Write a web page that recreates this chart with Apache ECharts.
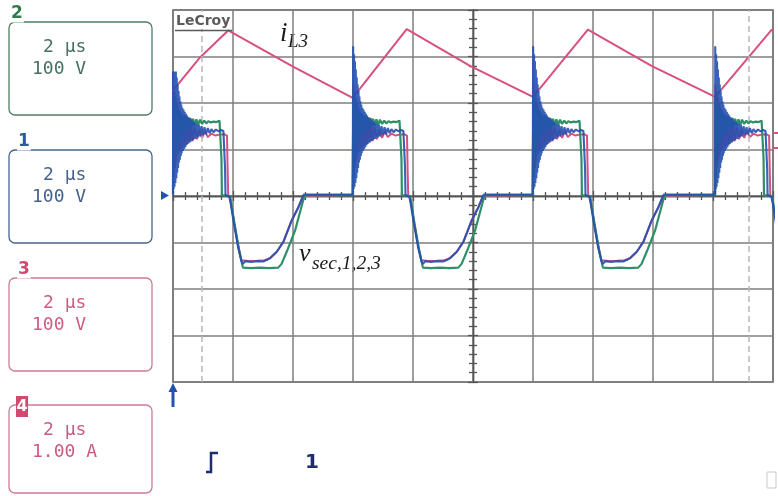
<!DOCTYPE html>
<html>
<head>
<meta charset="utf-8">
<script src="https://cdn.jsdelivr.net/npm/echarts@6/dist/echarts.min.js"></script>
<style>
  html, body { margin: 0; padding: 0; background: #fff; }
  #scope { width: 778px; height: 496px; }
</style>
</head>
<body>
<div id="scope"></div>
<script>
// Time base: 2 us/div over 10 divisions, trigger-relative (-10 .. 10 us).
// Voltage channels: 100 V/div over 8 divisions. Current channel: 1 A/div.

// Start time (us) of each positive secondary pulse
const pulseStarts = [-10.0, -4.0, 2.0, 8.07];
// Highest overshoot reached by channel 1 on each pulse (V)
const ch1SpikeCeiling = [268, 322, 322, 322];

// One switching period of each secondary voltage, [time after pulse start (us), volts]
const ch1Period = [
  [0.00, 3], [0.005, 322], [0.02, 15], [0.035, 305], [0.05, 20], [0.065, 290], [0.08, 28],
  [0.095, 272], [0.11, 38], [0.125, 255], [0.14, 50], [0.155, 240], [0.17, 60], [0.185, 226],
  [0.20, 72], [0.215, 214], [0.23, 78], [0.245, 204], [0.26, 86], [0.275, 197], [0.29, 92],
  [0.31, 190], [0.33, 97], [0.35, 186], [0.37, 101], [0.39, 181], [0.41, 105], [0.43, 177],
  [0.45, 109], [0.47, 173], [0.49, 112], [0.52, 169], [0.55, 115], [0.58, 166], [0.61, 118],
  [0.64, 162], [0.67, 120], [0.70, 159], [0.74, 123], [0.78, 156], [0.82, 126], [0.86, 153],
  [0.90, 128], [0.95, 150], [1.00, 131], [1.05, 148], [1.10, 133], [1.16, 146], [1.22, 135],
  [1.28, 144], [1.35, 137], [1.43, 143], [1.52, 139], [1.60, 142], [1.68, 140],
  [1.72, 137], [1.735, 60], [1.75, 2], [1.88, -2], [1.92, -15], [2.02, -55], [2.17, -110],
  [2.28, -140], [2.33, -146], [2.42, -140], [2.60, -142], [2.80, -140], [3.00, -141],
  [3.15, -137], [3.25, -133], [3.46, -120], [3.68, -98], [3.96, -52], [4.18, -24],
  [4.32, -2], [4.36, 3], [5.99, 3]
];
const ch2Period = [
  [0.00, 3], [0.01, 215], [0.03, 50], [0.045, 207], [0.06, 75], [0.075, 200], [0.09, 90],
  [0.105, 194], [0.12, 102], [0.135, 189], [0.15, 112], [0.165, 186], [0.18, 119], [0.195, 182],
  [0.21, 125], [0.23, 180], [0.25, 129], [0.27, 177], [0.29, 134], [0.31, 175], [0.34, 138],
  [0.37, 173], [0.40, 141], [0.43, 172], [0.46, 144], [0.50, 169], [0.54, 146], [0.58, 168],
  [0.62, 149], [0.67, 166], [0.72, 151], [0.78, 165], [0.84, 153], [0.90, 164], [0.97, 155],
  [1.04, 162], [1.11, 156], [1.18, 161], [1.26, 158], [1.35, 160], [1.45, 159], [1.55, 162],
  [1.60, 160], [1.615, 80], [1.63, 2], [1.90, 0], [1.95, -20], [2.05, -60], [2.20, -115],
  [2.33, -154], [2.60, -155], [2.90, -154], [3.20, -155], [3.51, -154], [3.62, -146],
  [3.79, -120], [4.07, -74], [4.34, -9], [4.43, 2], [5.99, 2]
];
const ch3Period = [
  [0.00, 2], [0.01, 240], [0.03, 40], [0.05, 225], [0.07, 60], [0.09, 212], [0.11, 75],
  [0.13, 200], [0.15, 88], [0.17, 192], [0.19, 95], [0.22, 185], [0.25, 100], [0.28, 178],
  [0.31, 104], [0.34, 172], [0.38, 108], [0.42, 165], [0.46, 112], [0.50, 160], [0.55, 115],
  [0.60, 154], [0.65, 118], [0.72, 148], [0.80, 122], [0.88, 143], [0.97, 125], [1.06, 139],
  [1.16, 127], [1.28, 134], [1.42, 130], [1.55, 132], [1.70, 133], [1.80, 130], [1.82, 60],
  [1.84, 2], [1.90, -3], [2.00, -40], [2.15, -100], [2.28, -138], [2.50, -140], [2.80, -139],
  [3.05, -138], [3.23, -134], [3.46, -120], [3.68, -99], [3.96, -52], [4.18, -24],
  [4.34, 0], [5.99, 2]
];

// Inductor current i_L3 [time (us), amperes]
const iL3 = [
  [-9.95, 2.31], [-9.10, 2.98], [-8.16, 3.56], [-6.00, 2.78], [-4.01, 2.11],
  [-2.21, 3.59], [-0.10, 2.80], [2.00, 2.13], [3.83, 3.58], [5.95, 2.80],
  [8.07, 2.13], [9.96, 3.58], [10.0, 3.56]
];

// Time cursors (us)
const cursorTimes = [-9.04, 9.18];

const C_BLUE = '#2450b0', C_GREEN = '#2f8f66', C_PINK = '#d8507e';

function repeatPeriod(period, starts, ceilings) {
  const out = [];
  starts.forEach((s, i) => {
    period.forEach(([dt, v]) => {
      out.push([+(s + dt).toFixed(3), ceilings ? Math.min(v, ceilings[i]) : v]);
    });
  });
  return out;
}

const ch1 = repeatPeriod(ch1Period, pulseStarts, ch1SpikeCeiling);
const ch2 = repeatPeriod(ch2Period, pulseStarts);
const ch3 = repeatPeriod(ch3Period, pulseStarts);

const GRID_C = '#7e7e7e', AXIS_C = '#555';

function centreX(position) {
  return {
    type: 'value', min: -10, max: 10, interval: 2, position: position,
    axisLine: { show: true, onZero: true, onZeroAxisIndex: 0, lineStyle: { color: AXIS_C, width: 1.4 } },
    axisTick: { show: true, length: 5, lineStyle: { color: AXIS_C, width: 1.3 } },
    minorTick: { show: true, splitNumber: 5, length: 4, lineStyle: { color: AXIS_C, width: 1.3 } },
    axisLabel: { show: false },
    splitLine: { show: position === 'bottom', lineStyle: { color: GRID_C, width: 1.5 } },
    minorSplitLine: { show: false }
  };
}
function centreY(position) {
  return {
    type: 'value', min: -400, max: 400, interval: 100, position: position,
    axisLine: { show: true, onZero: true, lineStyle: { color: AXIS_C, width: 1.4 } },
    axisTick: { show: true, length: 5, lineStyle: { color: AXIS_C, width: 1.3 } },
    minorTick: { show: true, splitNumber: 5, length: 4, lineStyle: { color: AXIS_C, width: 1.3 } },
    axisLabel: { show: false },
    splitLine: { show: position === 'left', lineStyle: { color: GRID_C, width: 1.5 } },
    minorSplitLine: { show: false }
  };
}

// Channel readout boxes on the left
const panels = [
  { tag: '2', y: 22, h: 93, stroke: '#4f7d66', tagColor: '#2e7d4f', text: '#46705f', l1: '2 µs', l2: '100 V' },
  { tag: '1', y: 150, h: 93, stroke: '#47648f', tagColor: '#2d5a9e', text: '#45628c', l1: '2 µs', l2: '100 V' },
  { tag: '3', y: 278, h: 93, stroke: '#d27a95', tagColor: '#d04a70', text: '#cf5d7f', l1: '2 µs', l2: '100 V' },
  { tag: '4', y: 405, h: 88, stroke: '#cf7a95', tagColor: '#d04a70', text: '#c95c7e', l1: '2 µs', l2: '1.00 A' }
];

const graphics = [];
panels.forEach((p, i) => {
  graphics.push({ type: 'rect', shape: { x: 9, y: p.y, width: 143, height: p.h, r: 6 },
    style: { fill: 'none', stroke: p.stroke, lineWidth: 1.3 } });
  if (p.tag === '4') {
    graphics.push({ type: 'rect', shape: { x: 16, y: p.y - 9, width: 12, height: 21 },
      style: { fill: p.tagColor } });
    graphics.push({ type: 'text', x: 22, y: p.y + 1.5,
      style: { text: p.tag, fill: '#fff', font: 'bold 16px "DejaVu Sans"', align: 'center', verticalAlign: 'middle' } });
  } else {
    graphics.push({ type: 'text', x: i === 0 ? 10 : 17, y: p.y - 8,
      style: { text: p.tag, fill: p.tagColor, font: 'bold 17px "DejaVu Sans"', align: 'left', verticalAlign: 'middle',
        backgroundColor: '#fff', padding: [0, 1] } });
  }
  graphics.push({ type: 'text', x: 43, y: p.y + 25,
    style: { text: p.l1, fill: p.text, font: '18px "DejaVu Sans Mono"', align: 'left', verticalAlign: 'middle' } });
  graphics.push({ type: 'text', x: 32, y: p.y + 47,
    style: { text: p.l2, fill: p.text, font: '18px "DejaVu Sans Mono"', align: 'left', verticalAlign: 'middle' } });
});

// Channel 1 ground marker and trigger arrow
graphics.push({ type: 'polygon', shape: { points: [[161, 191], [169, 195.5], [161, 200]] }, style: { fill: C_BLUE } });
graphics.push({ type: 'line', shape: { x1: 173, y1: 407, x2: 173, y2: 389 }, style: { stroke: C_BLUE, lineWidth: 3 } });
graphics.push({ type: 'polygon', shape: { points: [[173, 383], [168.5, 392], [177.5, 392]] }, style: { fill: C_BLUE } });
// Channel markers on the right edge
graphics.push({ type: 'line', shape: { x1: 773, y1: 133, x2: 778, y2: 133 }, style: { stroke: C_PINK, lineWidth: 2 } });
graphics.push({ type: 'line', shape: { x1: 773, y1: 148, x2: 778, y2: 148 }, style: { stroke: C_PINK, lineWidth: 2 } });

// Brand tag
graphics.push({ type: 'text', x: 175, y: 21, z: 20,
  style: { text: 'LeCroy', fill: '#5a5a5a', font: 'bold 14px "DejaVu Sans"', align: 'left', verticalAlign: 'middle',
    backgroundColor: '#fff', padding: [1, 1] } });
graphics.push({ type: 'line', z: 20, shape: { x1: 175, y1: 30.5, x2: 232, y2: 30.5 }, style: { stroke: '#5a5a5a', lineWidth: 1.6 } });

// Trace annotations
graphics.push({ type: 'text', x: 280, y: 34,
  style: { text: 'i', fill: '#1a1a1a', font: 'italic 27px "Liberation Serif"', align: 'left', verticalAlign: 'middle' } });
graphics.push({ type: 'text', x: 288, y: 41.5,
  style: { text: 'L3', fill: '#1a1a1a', font: 'italic 19px "Liberation Serif"', align: 'left', verticalAlign: 'middle' } });
graphics.push({ type: 'text', x: 299, y: 254,
  style: { text: 'v', fill: '#1a1a1a', font: 'italic 26px "Liberation Serif"', align: 'left', verticalAlign: 'middle' } });
graphics.push({ type: 'text', x: 312, y: 263.5,
  style: { text: 'sec,1,2,3', fill: '#1a1a1a', font: 'italic 19.5px "Liberation Serif"', align: 'left', verticalAlign: 'middle' } });

// Trigger status line
graphics.push({ type: 'polyline', shape: { points: [[206, 472], [211, 472], [211, 453], [218, 453]] },
  style: { stroke: '#1c2d6e', lineWidth: 2.5, fill: 'none' } });
graphics.push({ type: 'text', x: 312, y: 463,
  style: { text: '1', fill: '#1c2d6e', font: 'bold 20px "DejaVu Sans"', align: 'center', verticalAlign: 'middle' } });
graphics.push({ type: 'rect', shape: { x: 767, y: 472, width: 9, height: 16 }, style: { fill: 'none', stroke: '#c8c8c8', lineWidth: 1 } });

const chart = echarts.init(document.getElementById('scope'), null, { renderer: 'canvas' });
chart.setOption({
  animation: false,
  backgroundColor: '#fff',
  grid: { left: 173, top: 10, width: 600, height: 372, show: true, borderColor: '#606060', borderWidth: 1.6, backgroundColor: 'transparent' },
  xAxis: [centreX('bottom'), centreX('top')],
  yAxis: [centreY('left'), centreY('right'),
    { type: 'value', min: -4, max: 4, show: false, splitLine: { show: false } }],
  graphic: graphics,
  series: [
    {
      name: 'cursors', type: 'line', data: [], silent: true,
      markLine: {
        silent: true, symbol: 'none', animation: false, label: { show: false },
        lineStyle: { color: '#b8b8b8', type: [6, 4], width: 1.5 },
        data: cursorTimes.map(t => ({ xAxis: t }))
      }
    },
    { name: 'iL3', type: 'line', yAxisIndex: 2, data: iL3, showSymbol: false, symbol: 'none',
      lineStyle: { color: C_PINK, width: 2 }, z: 3 },
    { name: 'vsec3', type: 'line', data: ch3, showSymbol: false, symbol: 'none',
      lineStyle: { color: C_PINK, width: 2 }, z: 4 },
    { name: 'vsec2', type: 'line', data: ch2, showSymbol: false, symbol: 'none',
      lineStyle: { color: C_GREEN, width: 2.2 }, z: 5 },
    { name: 'vsec1', type: 'line', data: ch1, showSymbol: false, symbol: 'none',
      lineStyle: { color: C_BLUE, width: 2.1, opacity: 0.9 }, z: 6 }
  ]
});
</script>
</body>
</html>
